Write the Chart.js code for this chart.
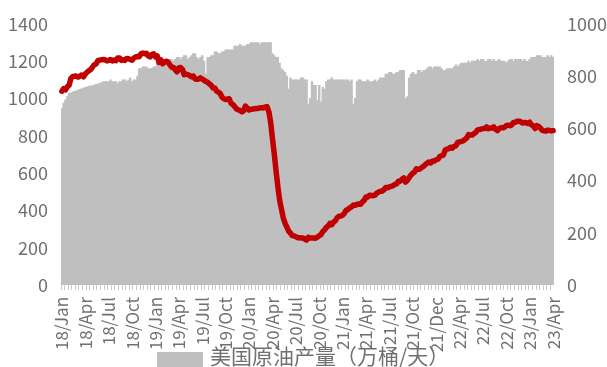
<!DOCTYPE html>
<html>
<head>
<meta charset="utf-8">
<script src="https://cdn.jsdelivr.net/npm/chart.js@4/dist/chart.umd.min.js"></script>
<style>
  html, body { margin: 0; padding: 0; background: #fff; }
  #wrap { width: 607px; height: 367px; }
</style>
</head>
<body>
<div id="wrap"><canvas id="c" width="607" height="367"></canvas></div>
<script>
// Axis labels, one every 13 weeks
const tickLabels = ['18/Jan','18/Apr','18/Jul','18/Oct','19/Jan','19/Apr','19/Jul','19/Oct',
  '20/Jan','20/Apr','20/Jul','20/Oct','21/Jan','21/Apr','21/Jul','21/Oct','21/Dec',
  '22/Apr','22/Jul','22/Oct','23/Jan','23/Apr'];
const labelEvery = 13;

// US crude output, 万桶/天, weekly
const output2018 = [946,975,993,1010,1027,1030,1035,1038,1041,1046,1049,1052,1055,1060,1062,1065,1068,1068,1072,1075,
  1078,1080,1085,1090,1090,1090,1090,1100,1090,1090,1090,1080,1090,1090,1100,1100,1090,1100,1110,1090,
  1100,1100,1120,1160,1160,1170,1170,1170,1160,1160,1160,1170];
const output2019 = [1170,1190,1190,1190,1190,1190,1200,1210,1210,1210,1200,1210,1220,1220,1210,1220,1230,1230,1210,1220,
  1230,1240,1240,1220,1210,1220,1230,1200,1130,1220,1220,1230,1230,1250,1250,1240,1240,1250,1250,1260,
  1260,1260,1260,1260,1280,1280,1280,1290,1280,1280,1280,1290];
const output2020 = [1290,1300,1300,1300,1300,1300,1290,1300,1300,1300,1300,1300,1300,1240,1230,1220,1220,1190,1160,1150,
  1140,1120,1050,1110,1100,1100,1100,1100,1100,1110,1110,1100,1100,970,1000,1090,1070,1070,990,1070,
  980,1060,1050,1090,1100,1100,1110,1100,1100,1100,1100,1100,1100];
const output2021 = [1100,1100,1100,1090,1100,970,1000,1090,1100,1100,1090,1090,1090,1100,1090,1090,1090,1100,1090,1100,
  1110,1110,1110,1130,1130,1140,1140,1130,1130,1140,1140,1150,1150,1150,1000,1010,1110,1130,1140,1130,
  1130,1150,1150,1140,1150,1150,1160,1170,1170,1160,1170,1170];
const output2022 = [1170,1170,1160,1150,1150,1160,1160,1160,1160,1170,1180,1170,1180,1190,1190,1190,1190,1200,1190,1200,
  1200,1200,1210,1200,1210,1210,1200,1200,1210,1210,1200,1210,1200,1200,1210,1200,1200,1200,1190,1200,
  1210,1210,1200,1210,1210,1210,1210,1200,1210,1200];
const output2023 = [1200,1210,1220,1220,1220,1230,1230,1230,1220,1220,1220,1230,1220,1230,1220];

// US oil rig count, weekly
const rigs2018 = [742,752,747,759,765,791,798,799,800,796,800,804,797,808,815,820,825,834,844,846,
  859,861,862,863,862,858,860,863,858,861,859,869,869,860,862,860,867,866,863,861,
  869,873,875,874,886,888,885,887,877,873,883,885];
const rigs2019 = [873,877,852,862,847,854,857,853,843,834,833,824,816,831,833,825,805,807,805,802,
  797,800,789,788,789,793,788,784,779,776,770,764,754,754,742,738,733,719,713,710,
  712,713,696,691,684,674,671,668,663,667,685,677];
const rigs2020 = [670,673,673,675,676,676,678,679,678,682,683,664,624,562,504,438,378,325,292,258,
  237,222,206,199,189,188,185,181,181,180,180,176,172,183,180,180,180,179,183,189,
  193,205,211,221,226,236,231,241,246,258,263,264,267];
const rigs2021 = [275,287,289,295,299,306,305,309,310,309,318,324,337,337,344,343,342,344,352,356,
  359,359,365,373,372,376,378,380,385,387,397,397,405,410,394,401,411,421,428,433,
  445,443,444,450,454,461,467,471,467,475,475,480];
const rigs2022 = [481,492,495,497,516,520,522,527,524,531,533,546,548,549,552,557,563,576,574,574,
  580,584,594,595,597,599,599,605,598,601,601,605,596,591,599,602,602,604,610,612,
  610,613,622,623,627,627,625,620,622,621];
const rigs2023 = [618,623,613,609,599,610,607,600,592,590,589,593,592,590,591];

const production = [].concat(output2018, output2019, output2020, output2021, output2022, output2023);
const rigCount = [].concat(rigs2018, rigs2019, rigs2020, rigs2021, rigs2022, rigs2023);
const weeks = production.map((_, i) => i);

const legendLabel = '美国原油产量（万桶/天）';
const FONT = "'Noto Sans CJK SC', 'Noto Sans', sans-serif";
const TEXT = '#707070';
const GREY = '#BFBFBF';
const RED = '#C00000';
const plainNumber = (v) => String(v);

// Series key drawn under the axis labels
const bottomKey = {
  id: 'bottomKey',
  afterDraw(chart) {
    const ctx = chart.ctx;
    ctx.save();
    ctx.fillStyle = GREY;
    ctx.fillRect(157, 352, 46, 16);
    ctx.fillStyle = TEXT;
    ctx.font = '21px ' + FONT;
    ctx.textBaseline = 'top';
    ctx.textAlign = 'left';
    ctx.fillText(legendLabel, 210, 346);
    ctx.restore();
  }
};

new Chart(document.getElementById('c'), {
  data: {
    labels: weeks,
    datasets: [
      {
        type: 'line',
        label: '美国石油钻机数',
        data: rigCount,
        yAxisID: 'y1',
        borderColor: RED,
        borderWidth: 5.5,
        pointRadius: 0,
        tension: 0,
        borderJoinStyle: 'round',
        borderCapStyle: 'round',
        order: 0
      },
      {
        type: 'bar',
        label: legendLabel,
        data: production,
        yAxisID: 'y',
        backgroundColor: GREY,
        borderWidth: 0,
        barPercentage: 1,
        categoryPercentage: 1,
        order: 1
      }
    ]
  },
  options: {
    responsive: false,
    animation: false,
    devicePixelRatio: 1,
    layout: { padding: { top: 20, left: 0, right: 0, bottom: 0 } },
    plugins: { legend: { display: false }, tooltip: { enabled: false } },
    scales: {
      x: {
        type: 'category',
        offset: true,
        border: { display: false },
        grid: {
          offset: true,
          drawOnChartArea: false,
          drawTicks: true,
          tickLength: 5,
          lineWidth: 1,
          color: (c) => (c.index % 2 === 0 ? '#c9c9c9' : 'rgba(0,0,0,0)')
        },
        ticks: {
          autoSkip: false,
          minRotation: 90,
          maxRotation: 90,
          padding: 7,
          color: TEXT,
          font: { family: FONT, size: 17 },
          callback: (v, i) => (i % labelEvery === 0 ? tickLabels[i / labelEvery] : '')
        },
        afterFit: (s) => { s.height = 82; }
      },
      y: {
        position: 'left',
        min: 0,
        max: 1400,
        border: { display: false },
        grid: { display: false, drawTicks: false },
        ticks: { stepSize: 200, padding: 13, color: TEXT, font: { family: FONT, size: 18 }, callback: plainNumber },
        afterFit: (s) => { s.width = 61; }
      },
      y1: {
        position: 'right',
        min: 0,
        max: 1000,
        border: { display: false },
        grid: { display: false, drawTicks: false },
        ticks: { stepSize: 200, padding: 13, color: TEXT, font: { family: FONT, size: 18 }, callback: plainNumber },
        afterFit: (s) => { s.width = 53; }
      }
    }
  },
  plugins: [bottomKey]
});
</script>
</body>
</html>
